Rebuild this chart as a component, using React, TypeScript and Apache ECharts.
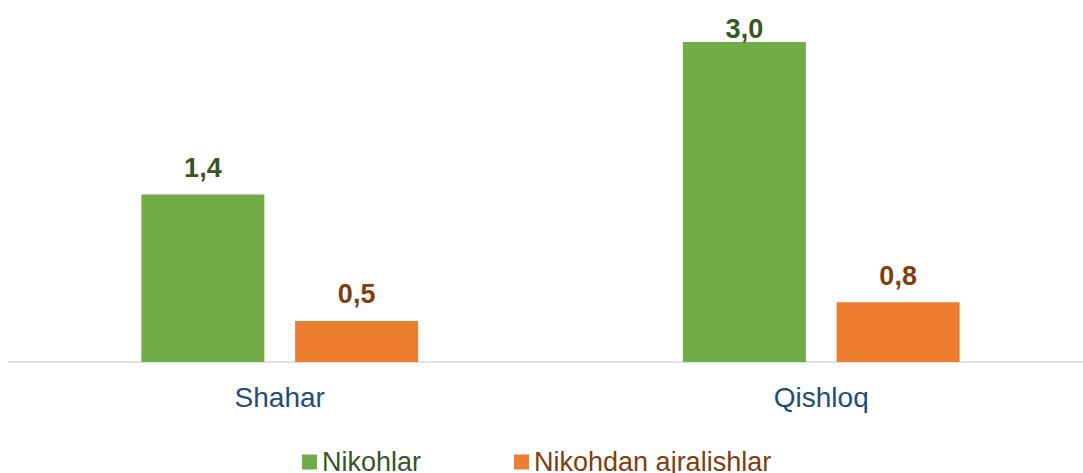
import React, { useEffect, useRef } from "react";
import * as echarts from "echarts";

// Categories and series
const categories = ["Shahar", "Qishloq"];
const seriesNames = ["Nikohlar", "Nikohdan ajralishlar"];
// Bar heights as drawn in the picture (same value axis for both series)
const marriages = [1.57, 3.0];
const divorces = [0.385, 0.56];
// Data labels as printed on the picture
const marriageLabels = ["1,4", "3,0"];
const divorceLabels = ["0,5", "0,8"];

const GREEN = "#70AD47";
const ORANGE = "#ED7D31";
const GREEN_TEXT = "#375623";
const ORANGE_TEXT = "#843C0C";
const FONT = "'Liberation Sans', Arial, Helvetica, sans-serif";

export default function App() {
  const ref = useRef<HTMLDivElement>(null);

  useEffect(() => {
    if (!ref.current) return;
    const chart = echarts.init(ref.current, undefined, { renderer: "svg" });
    const labelCfg = (color: string, texts: string[]) => ({
      show: true,
      position: "top",
      distance: 13,
      color,
      fontSize: 27,
      fontWeight: "bold",
      fontFamily: FONT,
      formatter: (p: any) => texts[p.dataIndex],
    });
    chart.setOption({
      animation: false,
      backgroundColor: "#ffffff",
      grid: { left: 9, right: 0, top: 42, bottom: 111, containLabel: false },
      legend: {
        left: 297,
        top: 443,
        icon: "rect",
        itemWidth: 15,
        itemHeight: 15,
        itemGap: 93,
        selectedMode: false,
        textStyle: { fontSize: 27, fontFamily: FONT, lineHeight: 28 },
        data: [
          { name: seriesNames[0], textStyle: { color: GREEN_TEXT } },
          { name: seriesNames[1], textStyle: { color: ORANGE_TEXT } },
        ],
      },
      xAxis: {
        type: "category",
        data: categories,
        axisLine: { show: true, lineStyle: { color: "#D9D9D9", width: 1.5 } },
        axisTick: { show: false },
        axisLabel: {
          color: "#1F4E79",
          fontSize: 28,
          fontFamily: FONT,
          margin: 21,
        },
      },
      yAxis: {
        type: "value",
        min: 0,
        max: 3.0,
        show: false,
        splitLine: { show: false },
      },
      series: [
        {
          name: seriesNames[0],
          type: "bar",
          data: marriages.map((v, i) =>
            i === 1 ? { value: v, label: { distance: 0 } } : v
          ),
          barWidth: 123,
          barGap: "25%",
          itemStyle: { color: GREEN },
          label: labelCfg(GREEN_TEXT, marriageLabels),
        },
        {
          name: seriesNames[1],
          type: "bar",
          data: divorces,
          barWidth: 123,
          barGap: "25%",
          itemStyle: { color: ORANGE },
          label: labelCfg(ORANGE_TEXT, divorceLabels),
        },
      ],
    });
    return () => chart.dispose();
  }, []);

  return (
    <div style={{ position: "fixed", left: 0, top: 0, width: 1083, height: 473, overflow: "hidden" }}>
      <div ref={ref} style={{ width: 1092, height: 473 }} />
    </div>
  );
}
